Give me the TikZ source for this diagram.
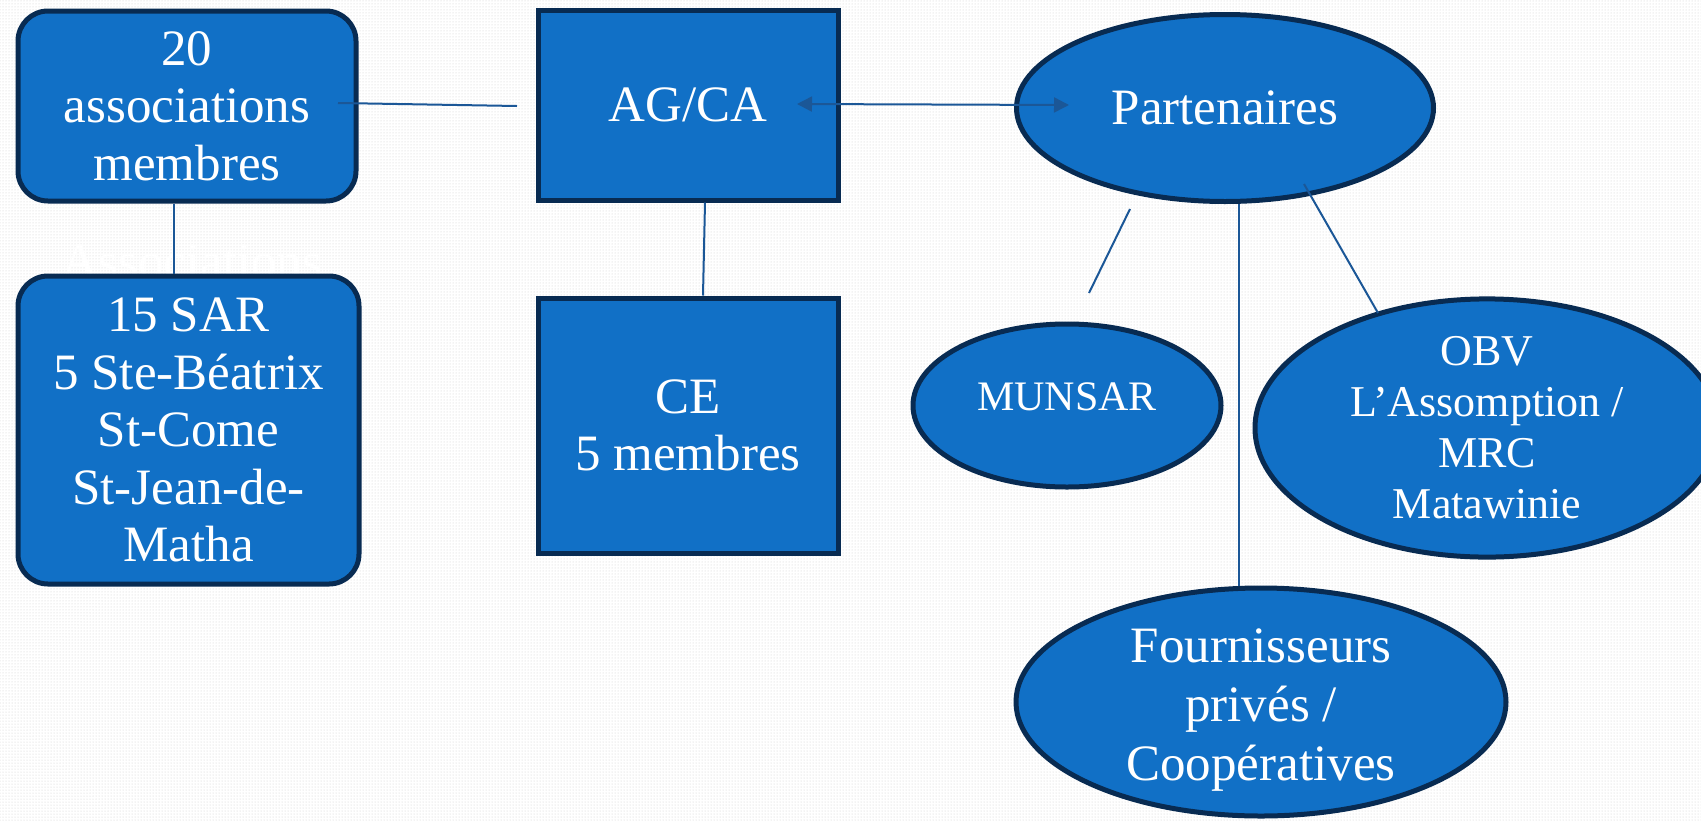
\documentclass[tikz,border=0pt]{standalone}
\usepackage{fontspec}
\setmainfont{Liberation Serif}
\usetikzlibrary{shapes.geometric,arrows.meta,patterns}
\definecolor{boxfill}{HTML}{1170C6}
\definecolor{boxedge}{HTML}{082B52}
\definecolor{linkcol}{HTML}{1B5797}
\tikzset{
  boxstyle/.style={draw=boxedge, line width=5pt, fill=boxfill, text=white, inner sep=0pt, align=center},
  roundbox/.style={boxstyle, rectangle, rounded corners=30pt},
  sqbox/.style={boxstyle, rectangle},
  oval/.style={boxstyle, ellipse},
  intext/.style={text=white, inner sep=0pt, align=center},
  link/.style={draw=linkcol, line width=2pt},
  bigtext/.style={font=\fontsize{51}{57.5}\selectfont},
  dblarrow/.style={{Triangle[length=15pt,width=15pt]}-{Triangle[length=15pt,width=15pt]}}
}
\begin{document}
\begin{tikzpicture}[x=1pt,y=-1pt]
\useasboundingbox (0,0) rectangle (1701,820);
\fill[white] (0,0) rectangle (1701,820);
\fill[pattern=dots, pattern color=black!20] (0,0) rectangle (1701,820);

% hidden white text behind box B
\node[text=white, bigtext, inner sep=0pt] (hid) at (192,262) {Associations};

% shapes
\node[roundbox, bigtext, minimum width=338pt, minimum height=190pt] (A) at (187,106) {20\\associations\\membres};
\node[roundbox, bigtext, minimum width=341pt, minimum height=308pt] (B) at (188.5,430) {15 SAR\\5 Ste-Béatrix\\St-Come\\St-Jean-de-\\Matha};
\node[sqbox, bigtext, minimum width=300pt, minimum height=190pt] (C) at (688,105) {AG/CA};
\node[sqbox, bigtext, minimum width=300pt, minimum height=255pt] (D) at (688,425.5) {CE\\5 membres};
\node[oval, bigtext, minimum width=417pt, minimum height=187pt] (E) at (1225,108) {Partenaires};
\node[oval, minimum width=308pt, minimum height=163pt] (F) at (1067,405.5) {};
\node[intext, font=\fontsize{42}{50}\selectfont] (Ft) at ([yshift=9pt]F.center) {MUNSAR};
\node[oval, font=\fontsize{44}{51}\selectfont, minimum width=464pt, minimum height=255pt] (G) at (1487,428) {OBV\\L’Assomption /\\MRC\\Matawinie};
\node[oval, minimum width=490pt, minimum height=228pt] (H) at (1261,702) {};
\node[intext, font=\fontsize{51}{59}\selectfont] (Ht) at ([yshift=-8pt]H.center) {Fournisseurs\\privés /\\Coopératives};

% connector anchor coordinates
\coordinate (ab) at (174,0);
\coordinate (cdt) at (705,0);
\coordinate (cdb) at (703,0);
\coordinate (eh) at (1239,0);
\coordinate (ac1) at (338,103);
\coordinate (ac2) at (517,106);
\coordinate (ce1) at (797,104);
\coordinate (ce2) at (1069,105);
\coordinate (ef1) at (1130,209);
\coordinate (ef2) at (1089,293);
\coordinate (eg1) at (1304,184);
\coordinate (eg2) at (1378,313);

% connectors
\draw[link] (ac1) -- (ac2);
\draw[link] (ab |- A.south) -- (ab |- B.north);
\draw[link] (cdt |- C.south) -- (cdb |- D.north);
\draw[link, dblarrow] (ce1) -- (ce2);
\draw[link] (eh |- E.south) -- (eh |- H.north);
\draw[link] (ef1) -- (ef2);
\draw[link] (eg1) -- (eg2);
\end{tikzpicture}
\end{document}
